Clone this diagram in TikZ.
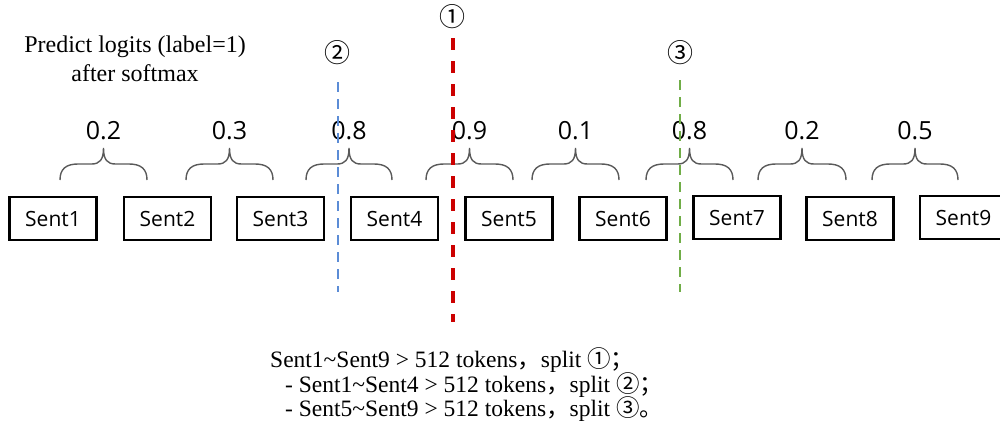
\documentclass[tikz,border=0pt]{standalone}
\usepackage{fontspec}
\setmainfont{Liberation Serif}
\newfontfamily\sentfont{Open Sans}
\newfontfamily\cjk{Noto Sans CJK SC}
\definecolor{splitred}{RGB}{204,0,0}
\definecolor{splitblue}{RGB}{91,140,214}
\definecolor{splitgreen}{RGB}{112,173,71}
\definecolor{bracegray}{RGB}{90,90,90}
\begin{document}
\begin{tikzpicture}[x=1pt,y=-1pt,
  sentbox/.style={draw, line width=2.5pt, minimum width=87pt, minimum height=43pt, inner sep=0pt, font=\sentfont\fontsize{21}{24}\selectfont},
  prob/.style={font=\sentfont\fontsize{25}{30}\selectfont, anchor=base, inner sep=0pt},
  circnum/.style={font=\cjk\fontsize{26}{28}\selectfont, inner sep=0pt},
  serifline/.style={font=\fontsize{23.5}{25}\selectfont, anchor=base west, inner sep=0pt},
  toptext/.style={font=\fontsize{24}{28}\selectfont, anchor=base, inner sep=0pt},
  bracestyle/.style={draw=bracegray, line width=1.4pt},
  redsplit/.style={draw=splitred, line width=4pt, dash pattern=on 12pt off 11pt},
  bluesplit/.style={draw=splitblue, line width=2.5pt, dash pattern=on 10pt off 7pt},
  greensplit/.style={draw=splitgreen, line width=2.5pt, dash pattern=on 10pt off 7pt}]
\clip (0,0) rectangle (1000,434);
\fill[white] (0,0) rectangle (1000,434);

% top-left caption
\node[toptext] (cap1) at (135,52) {Predict logits (label=1)};
\node[toptext] (cap2) at (135,81) {after softmax};

% sentence boxes
\node[sentbox] (s1) at (53,218.5) {Sent1};
\node[sentbox] (s2) at (167.5,218.5) {Sent2};
\node[sentbox] (s3) at (280.5,218.5) {Sent3};
\node[sentbox] (s4) at (394.5,218.5) {Sent4};
\node[sentbox] (s5) at (509,218.5) {Sent5};
\node[sentbox] (s6) at (623,218.5) {Sent6};
\node[sentbox] (s7) at (737,217.5) {Sent7};
\node[sentbox] (s8) at (850,218.5) {Sent8};
\node[sentbox] (s9) at (963.5,217.5) {Sent9};

% braces
\foreach \a/\b in {60/147,186/273,306/392,426/513,532/619,646/733,758/846,872/958}{
  \pgfmathsetmacro\m{(\a+\b)/2}
  \draw[bracestyle] (\a,180) .. controls (\a,169) and (\a+6,164) .. (\a+18,164)
    -- (\m-12,164) .. controls (\m-4,164) and (\m,160) .. (\m,148)
    .. controls (\m,160) and (\m+4,164) .. (\m+12,164)
    -- (\b-18,164) .. controls (\b-6,164) and (\b,169) .. (\b,180);
}

% probabilities
\node[prob] (p1) at (103.5,139) {0.2};
\node[prob] (p2) at (229.5,139) {0.3};
\node[prob] (p3) at (349,139) {0.8};
\node[prob] (p4) at (469.5,139) {0.9};
\node[prob] (p5) at (575.5,139) {0.1};
\node[prob] (p6) at (689.5,139) {0.8};
\node[prob] (p7) at (802,139) {0.2};
\node[prob] (p8) at (915,139) {0.5};

% split markers
\node[circnum] (c1) at (452,17) {①};
\node[circnum] (c2) at (337,53) {②};
\node[circnum] (c3) at (680,53) {③};

\coordinate (r1) at (453,38);  \coordinate (r2) at (453,322);
\coordinate (b1) at (338,82);  \coordinate (b2) at (338,292);
\coordinate (g1) at (680,80);  \coordinate (g2) at (680,292);
\draw[redsplit] (r1) -- (r2);
\draw[bluesplit] (b1) -- (b2);
\draw[greensplit] (g1) -- (g2);

% explanation
\node[serifline] (l1) at (270,367) {Sent1\textasciitilde Sent9 > 512 tokens{\cjk ，}split {\cjk ①；}};
\node[serifline] (l2) at (285,392) {- Sent1\textasciitilde Sent4 > 512 tokens{\cjk ，}split {\cjk ②；}};
\node[serifline] (l3) at (285,416) {- Sent5\textasciitilde Sent9 > 512 tokens{\cjk ，}split {\cjk ③。}};
\end{tikzpicture}
\end{document}
